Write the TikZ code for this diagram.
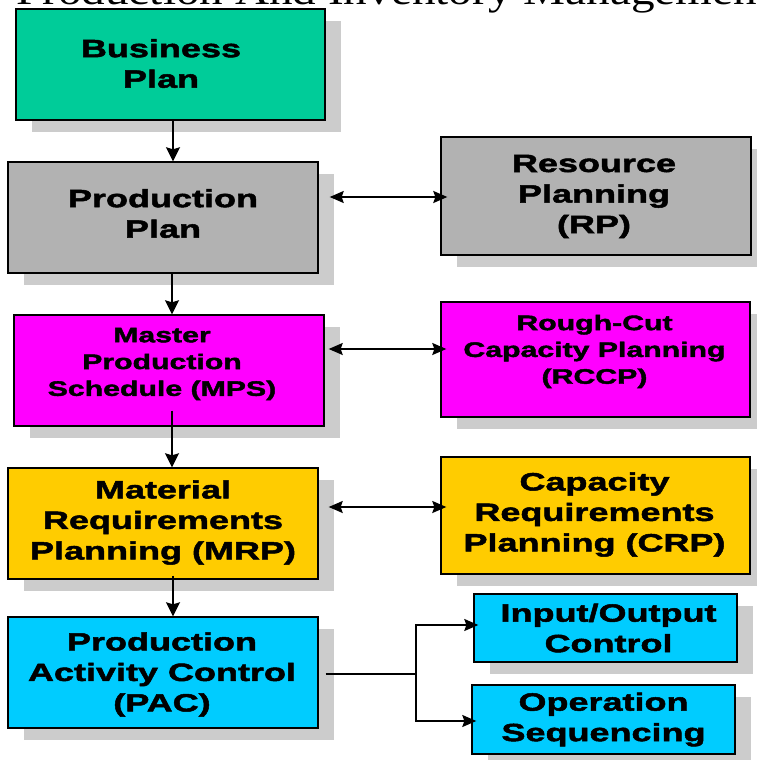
\documentclass[tikz,border=0pt]{standalone}
\usepackage{fontspec}
\usetikzlibrary{arrows.meta,shadows}
\newfontfamily\boxfont{Liberation Sans}[FakeStretch=1.44, BoldFeatures={FakeBold=2}]
\newfontfamily\titlefont{Liberation Serif}[FakeStretch=1.18]
\definecolor{cgreen}{RGB}{0,204,153}
\definecolor{cgray}{RGB}{178,178,178}
\definecolor{cmag}{RGB}{255,0,255}
\definecolor{cyel}{RGB}{255,204,0}
\definecolor{ccyan}{RGB}{0,204,255}
\definecolor{shadowgray}{RGB}{204,204,204}
\begin{document}
\begin{tikzpicture}[x=1pt,y=-1pt,
  box/.style={draw=black, line width=1.4pt, rectangle, inner sep=0pt,
    drop shadow={shadow xshift=16pt, shadow yshift=-12pt, fill=shadowgray, opacity=1}},
  lbl/.style={align=center, inner sep=0pt, font=\boxfont\bfseries\fontsize{25}{30.5}\selectfont},
  slbl/.style={align=center, inner sep=0pt, font=\boxfont\bfseries\fontsize{21}{26.8}\selectfont},
  conn/.style={line width=1.4pt},
  arr/.style={line width=1.4pt, -{Stealth[length=14pt,width=12pt,inset=2pt]}},
  varr/.style={line width=1.8pt, -{Stealth[length=14pt,width=14pt,inset=2pt]}},
  biarr/.style={line width=1.6pt, {Stealth[length=14pt,width=12pt,inset=2pt]}-{Stealth[length=14pt,width=12pt,inset=2pt]}}
]
\useasboundingbox (0,0) rectangle (757,760);
\fill[white] (0,0) rectangle (757,760);

% title (cut off at the top, as in the reference)
\node[anchor=base west, inner sep=0pt, font=\titlefont\fontsize{40}{40}\selectfont] (title) at (16,5) {Production And Inventory Management};

% boxes
\node[box, fill=cgreen, minimum width=309pt, minimum height=111pt] (bp) at (170.5,64.5) {};
\node[box, fill=cgray,  minimum width=310pt, minimum height=111pt] (pp) at (163,217.5) {};
\node[box, fill=cgray,  minimum width=310pt, minimum height=118pt] (rp) at (596,196) {};
\node[box, fill=cmag,   minimum width=310pt, minimum height=111pt] (mps) at (169,370.5) {};
\node[box, fill=cmag,   minimum width=309pt, minimum height=115pt] (rccp) at (595.5,359.5) {};
\node[box, fill=cyel,   minimum width=310pt, minimum height=111pt] (mrp) at (163,523.5) {};
\node[box, fill=cyel,   minimum width=309pt, minimum height=117pt] (crp) at (595.5,515.5) {};
\node[box, fill=ccyan,  minimum width=310pt, minimum height=111pt] (pac) at (163,672.5) {};
\node[box, fill=ccyan,  minimum width=263pt, minimum height=68pt] (io) at (605.5,628) {};
\node[box, fill=ccyan,  minimum width=263pt, minimum height=69pt] (ops) at (603.5,719.5) {};

% labels
\node[lbl] (bpt) at (161,63.5) {Business\\Plan};
\node[lbl] (ppt) at (163,213.5) {Production\\Plan};
\node[lbl] (rpt) at (594,196.5) {Resource\\Planning\\(RP)};
\node[slbl] (mpst) at (162,364) {Master\\Production\\Schedule (MPS)};
\node[slbl] (rccpt) at (594.5,351.5) {Rough-Cut\\Capacity Planning\\(RCCP)};
\node[lbl] (mrpt) at (163,522.5) {Material\\Requirements\\Planning (MRP)};
\node[lbl] (crpt) at (594.5,514.5) {Capacity\\Requirements\\Planning (CRP)};
\node[lbl] (pact) at (162,674.5) {Production\\Activity Control\\(PAC)};
\node[lbl] (iot) at (608.5,628) {Input/Output\\Control};
\node[lbl] (opst) at (603.5,719.5) {Operation\\Sequencing};

% vertical flow
\draw[varr] ([xshift=2.5pt]bp.south) -- ([xshift=10pt]pp.north);
\draw[varr] ([xshift=9pt]pp.south) -- ([xshift=3pt]mps.north);
\draw[varr] ([xshift=3pt,yshift=16pt]mps.south) -- ([xshift=9pt]mrp.north);
\draw[varr] ([xshift=10pt,yshift=4pt]mrp.south) -- ([xshift=10pt]pac.north);

% two-way links
\draw[biarr] ([xshift=11pt,yshift=20.5pt]pp.east) -- ([xshift=7pt,yshift=-1pt]rp.west);
\draw[biarr] ([xshift=4pt,yshift=21.5pt]mps.east) -- ([xshift=6pt,yshift=10.5pt]rccp.west);
\draw[biarr] ([xshift=10pt,yshift=16.5pt]mrp.east) -- ([xshift=6pt,yshift=8.5pt]crp.west);

% PAC branch
\coordinate (split) at (416,674);
\draw[conn] ([xshift=7pt,yshift=-1.5pt]pac.east) -- (split);
\draw[arr] (split) |- ([xshift=5pt,yshift=3pt]io.west);
\draw[arr] (split) |- ([xshift=5pt,yshift=-1.5pt]ops.west);
\end{tikzpicture}
\end{document}
